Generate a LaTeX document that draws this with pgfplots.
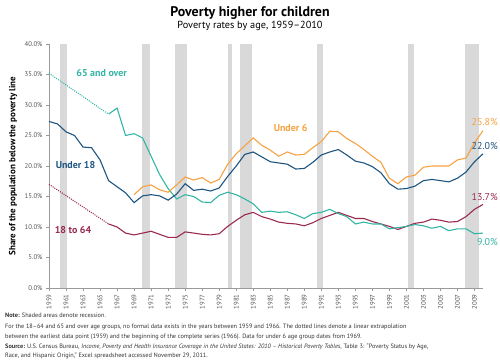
\documentclass[border=0pt]{standalone}
\usepackage{fontspec}
\setmainfont{PT Sans}
\usepackage{pgfplots}
\pgfplotsset{compat=1.18}
\definecolor{cteal}{HTML}{33B5A6}
\definecolor{cnavy}{HTML}{1D5580}
\definecolor{corange}{HTML}{F7A241}
\definecolor{cmaroon}{HTML}{9A2A4E}
\definecolor{recess}{HTML}{D9D9D9}
\definecolor{axisgray}{HTML}{9A9A9A}
\definecolor{tickgray}{HTML}{555555}
\definecolor{notegray}{HTML}{333333}
\begin{document}
\begin{tikzpicture}[x=1bp,y=1bp]
\useasboundingbox (0,0) rectangle (500,362);
\begin{axis}[
  at={(49bp,74bp)}, anchor=south west,
  scale only axis, width=434bp, height=244bp,
  xmin=1959, xmax=2010, ymin=0, ymax=40,
  axis x line=bottom, axis y line=left,
  axis line style={draw=axisgray,-,line width=0.6pt},
  tick style={draw=axisgray,line width=0.5pt},
  major tick length=3bp, tick align=outside,
  xtick={1959,1961,...,2009},
  ytick={0,5,...,40},
  /pgf/number format/assume math mode=true,
  /pgf/number format/1000 sep={},
  xticklabel style={rotate=90, anchor=east, font=\fontsize{6.8}{7}\selectfont, text=tickgray},
  yticklabel style={font=\fontsize{6.8}{7}\selectfont, text=tickgray},
  yticklabel={\pgfmathprintnumber[fixed,fixed zerofill,precision=1]{\tick}\%},
  clip=false,
]
% recessions
\addplot[fill=recess,draw=none] coordinates {(1960.26,0) (1960.26,40) (1961.16,40) (1961.16,0)} -- cycle;
\addplot[fill=recess,draw=none] coordinates {(1969.93,0) (1969.93,40) (1970.87,40) (1970.87,0)} -- cycle;
\addplot[fill=recess,draw=none] coordinates {(1973.8,0) (1973.8,40) (1975.18,40) (1975.18,0)} -- cycle;
\addplot[fill=recess,draw=none] coordinates {(1980.0,0) (1980.0,40) (1980.55,40) (1980.55,0)} -- cycle;
\addplot[fill=recess,draw=none] coordinates {(1981.5,0) (1981.5,40) (1982.9,40) (1982.9,0)} -- cycle;
\addplot[fill=recess,draw=none] coordinates {(1990.46,0) (1990.46,40) (1991.2,40) (1991.2,0)} -- cycle;
\addplot[fill=recess,draw=none] coordinates {(2001.2,0) (2001.2,40) (2001.86,40) (2001.86,0)} -- cycle;
\addplot[fill=recess,draw=none] coordinates {(2007.93,0) (2007.93,40) (2009.5,40) (2009.5,0)} -- cycle;
% 18 to 64
\addplot[cmaroon, line width=1.1pt, dash pattern=on 1pt off 1.2pt] coordinates {(1959,17.0) (1966,10.5)};
\addplot[cmaroon, line width=1.1pt] coordinates {
(1966,10.5)(1967,10.0)(1968,9.0)(1969,8.7)(1970,9.0)(1971,9.3)(1972,8.8)(1973,8.3)(1974,8.3)(1975,9.2)
(1976,9.0)(1977,8.8)(1978,8.7)(1979,8.9)(1980,10.1)(1981,11.1)(1982,12.0)(1983,12.4)(1984,11.7)(1985,11.3)
(1986,10.8)(1987,10.6)(1988,10.5)(1989,10.2)(1990,10.7)(1991,11.4)(1992,11.9)(1993,12.4)(1994,11.9)(1995,11.4)
(1996,11.4)(1997,10.9)(1998,10.5)(1999,10.1)(2000,9.6)(2001,10.1)(2002,10.6)(2003,10.8)(2004,11.3)(2005,11.1)
(2006,10.8)(2007,10.9)(2008,11.7)(2009,12.9)(2010,13.7)};
% 65 and over
\addplot[cteal, line width=1.1pt, dash pattern=on 1pt off 1.2pt] coordinates {(1959,35.2) (1966,28.5)};
\addplot[cteal, line width=1.1pt] coordinates {
(1966,28.5)(1967,29.5)(1968,25.0)(1969,25.3)(1970,24.6)(1971,21.6)(1972,18.6)(1973,16.3)(1974,14.6)(1975,15.3)
(1976,15.0)(1977,14.1)(1978,14.0)(1979,15.2)(1980,15.7)(1981,15.3)(1982,14.6)(1983,13.8)(1984,12.4)(1985,12.6)
(1986,12.4)(1987,12.5)(1988,12.0)(1989,11.4)(1990,12.2)(1991,12.4)(1992,12.9)(1993,12.2)(1994,11.7)(1995,10.5)
(1996,10.8)(1997,10.5)(1998,10.5)(1999,9.7)(2000,9.9)(2001,10.1)(2002,10.4)(2003,10.2)(2004,9.8)(2005,10.1)
(2006,9.4)(2007,9.7)(2008,9.7)(2009,8.9)(2010,9.0)};
% Under 6
\addplot[corange, line width=1.1pt] coordinates {
(1969,15.3)(1970,16.6)(1971,16.9)(1972,16.1)(1973,15.7)(1974,16.9)(1975,18.2)(1976,17.7)(1977,18.1)(1978,17.2)
(1979,17.8)(1980,20.3)(1981,22.0)(1982,23.3)(1983,24.6)(1984,23.4)(1985,22.6)(1986,21.6)(1987,22.3)(1988,21.8)
(1989,21.9)(1990,23.0)(1991,24.0)(1992,25.7)(1993,25.6)(1994,24.5)(1995,23.7)(1996,22.7)(1997,21.6)(1998,20.6)
(1999,18.0)(2000,17.1)(2001,18.2)(2002,18.5)(2003,19.8)(2004,20.0)(2005,20.0)(2006,20.0)(2007,21.0)(2008,21.3)
(2009,23.8)(2010,25.8)};
% Under 18
\addplot[cnavy, line width=1.1pt] coordinates {
(1959,27.3)(1960,26.9)(1961,25.6)(1962,25.0)(1963,23.1)(1964,23.0)(1965,21.0)(1966,17.6)(1967,16.6)(1968,15.6)
(1969,14.0)(1970,15.1)(1971,15.3)(1972,15.1)(1973,14.4)(1974,15.4)(1975,17.1)(1976,16.0)(1977,16.2)(1978,15.9)
(1979,16.4)(1980,18.3)(1981,20.0)(1982,21.9)(1983,22.3)(1984,21.5)(1985,20.7)(1986,20.5)(1987,20.3)(1988,19.5)
(1989,19.6)(1990,20.6)(1991,21.8)(1992,22.3)(1993,22.7)(1994,21.8)(1995,20.8)(1996,20.5)(1997,19.9)(1998,18.9)
(1999,17.1)(2000,16.2)(2001,16.3)(2002,16.7)(2003,17.6)(2004,17.8)(2005,17.6)(2006,17.4)(2007,18.0)(2008,19.0)
(2009,20.7)(2010,22.0)};
\end{axis}
% y label
\node[rotate=90, font=\fontsize{9}{10}\selectfont\bfseries] at (13,196) {Share of the population below the poverty line};
% titles
\node[font=\fontsize{14}{15}\selectfont\bfseries] at (250,349) {Poverty higher for children};
\node[font=\fontsize{10.3}{11}\selectfont] at (250,336) {Poverty rates by age, 1959–2010};
% series labels
\node[font=\fontsize{10}{11}\selectfont\bfseries, text=cteal] at (101.7,289.3) {65 and over};
\node[font=\fontsize{10}{11}\selectfont\bfseries, text=cnavy] at (75.5,197) {Under 18};
\node[font=\fontsize{10}{11}\selectfont\bfseries, text=cmaroon] at (73,132) {18 to 64};
\node[font=\fontsize{10}{11}\selectfont\bfseries, text=corange] at (290.7,234.3) {Under 6};
% end labels
\node[font=\fontsize{10}{11}\selectfont, text=corange, anchor=east, inner sep=0] at (498,239.7) {25.8\%};
\node[font=\fontsize{10}{11}\selectfont, text=cnavy, anchor=east, inner sep=0] at (498,216.3) {22.0\%};
\node[font=\fontsize{10}{11}\selectfont, text=cmaroon, anchor=east, inner sep=0] at (498,165.3) {13.7\%};
\node[font=\fontsize{10}{11}\selectfont, text=cteal, anchor=east, inner sep=0] at (498,119.7) {9.0\%};
% notes
\begin{scope}[every node/.style={anchor=west, inner sep=0, font=\fontsize{6.3}{7}\selectfont, text=notegray}]
\node at (5,47) {\textbf{Note:} Shaded areas denote recession.};
\node at (5,35.5) {For the 18–64 and 65 and over age groups, no formal data exists in the years between 1959 and 1966. The dotted lines denote a linear extrapolation};
\node at (5,25.5) {between the earliest data point (1959) and the beginning of the complete series (1966). Data for under 6 age group dates from 1969.};
\node at (5,15.5) {\textbf{Source:} U.S. Census Bureau, \textit{Income, Poverty and Health Insurance Coverage in the United States: 2010 – Historical Poverty Tables}, Table 3: “Poverty Status by Age,};
\node at (5,6) {Race, and Hispanic Origin,” Excel spreadsheet accessed November 29, 2011.};
\end{scope}
\end{tikzpicture}
\end{document}
